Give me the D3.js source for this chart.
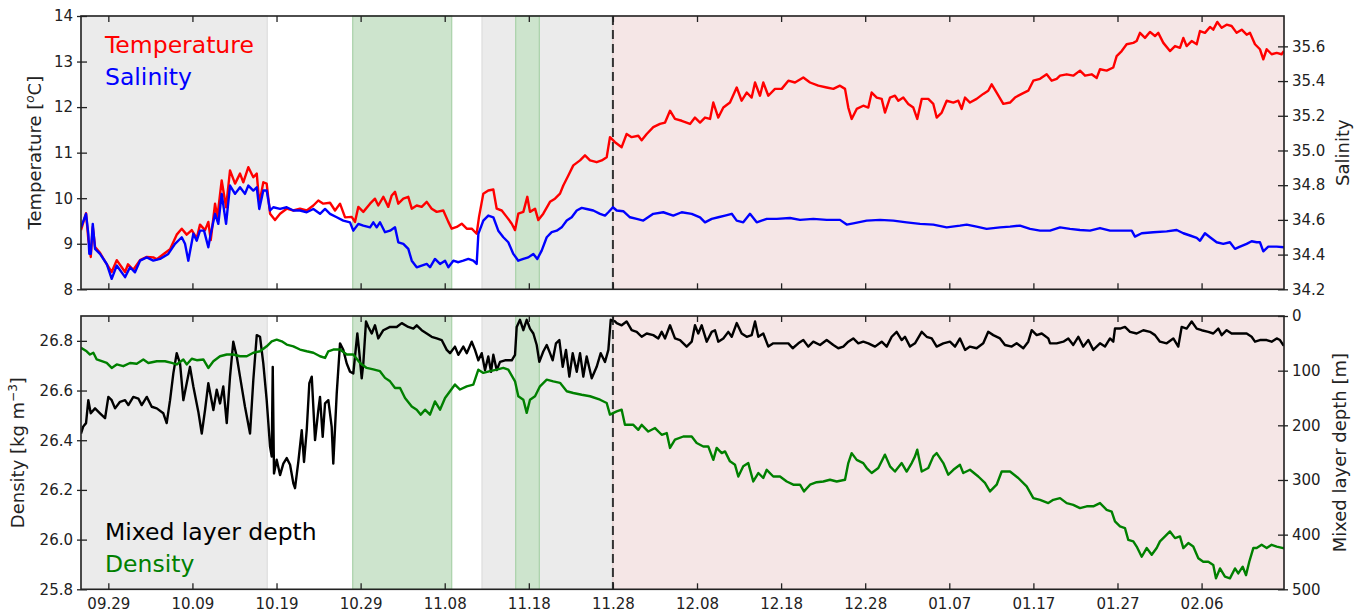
<!DOCTYPE html>
<html>
<head>
<meta charset="utf-8">
<script src="https://cdn.jsdelivr.net/npm/d3@7"></script>
<style>
body { margin: 0; background: #fff; }
svg text { font-family: "DejaVu Sans", sans-serif; }
</style>
</head>
<body>
<svg></svg>
<script>
const WIDTH = 1363
const HEIGHT = 612
const LEFT = 81, RIGHT = 1284
const TOP1 = 16, BOT1 = 289.3
const TOP2 = 316, BOT2 = 589.3

// days counted from 09.29 (first tick)
const xTickLabels = ['09.29','10.09','10.19','10.29','11.08','11.18','11.28','12.08','12.18','12.28','01.07','01.17','01.27','02.06']
const dayRange = [-3.25, 139.8]

const grayPeriods = [[-3.25, 18.9], [44.43, 60]]
const greenPeriods = [[29.06, 40.83], [48.44, 51.25]]
const pinkPeriods = [[60, 139.8]]
const dashedDay = 60

const tempTicks = [8, 9, 10, 11, 12, 13, 14]
const salTicks = [34.2, 34.4, 34.6, 34.8, 35.0, 35.2, 35.4, 35.6]
const densTicks = [25.8, 26.0, 26.2, 26.4, 26.6, 26.8]
const mldTicks = [0, 100, 200, 300, 400, 500]

const temperature = [
  [-3.25,9.30],[-2.65,9.67],[-2.38,9.10],[-2.18,8.86],[-2.09,8.71],[-1.85,9.37],[-1.58,8.93],[-0.99,8.80],
  [-0.19,8.55],[0.40,8.38],[1.00,8.64],[1.99,8.38],[2.34,8.55],[2.97,8.43],[3.77,8.64],[4.57,8.71],
  [5.35,8.70],[5.76,8.66],[6.54,8.77],[7.34,8.88],[8.13,9.20],[8.73,9.33],[9.32,9.20],[9.92,9.30],
  [10.51,9.12],[10.90,9.42],[11.50,9.30],[11.89,9.48],[12.18,9.08],[12.69,9.88],[12.96,9.58],[13.48,10.39],
  [14.00,9.80],[14.47,10.61],[15.07,10.32],[15.66,10.54],[16.05,10.35],[16.65,10.68],[17.24,10.46],[17.65,10.54],
  [17.95,9.88],[18.43,10.35],[18.83,10.32],[19.23,9.66],[19.82,9.52],[20.42,9.66],[21.21,9.77],[22.00,9.73],
  [22.79,9.77],[23.59,9.73],[24.38,9.84],[24.97,9.95],[25.56,9.88],[26.36,9.90],[26.96,9.73],[27.55,9.88],
  [28.15,9.58],[28.94,9.59],[29.33,9.48],[29.73,9.81],[30.32,9.70],[31.12,9.88],[31.71,9.99],[32.10,9.84],
  [32.70,10.03],[33.29,9.81],[33.70,10.06],[34.09,10.14],[34.48,9.88],[35.08,9.99],[35.67,10.03],[36.08,9.77],
  [36.67,9.84],[37.26,9.81],[37.86,9.92],[38.45,9.77],[39.05,9.70],[39.83,9.73],[40.43,9.48],[40.83,9.33],
  [41.43,9.37],[42.02,9.44],[42.62,9.33],[43.21,9.33],[43.80,9.22],[44.08,9.59],[44.59,10.10],[45.18,10.17],
  [45.78,10.19],[46.18,9.77],[46.78,9.73],[47.37,9.59],[47.97,9.44],[48.36,9.30],[48.75,9.66],[49.35,9.70],
  [49.82,10.03],[50.14,9.70],[50.74,9.77],[51.13,9.52],[51.72,9.66],[52.52,9.92],[53.11,9.99],[53.71,10.10],
  [54.10,10.28],[54.70,10.50],[55.29,10.72],[56.09,10.83],[56.68,10.94],[57.28,10.83],[58.07,10.79],[58.67,10.83],
  [59.26,10.90],[59.65,11.34],[60.25,11.23],[61.04,11.12],[61.63,11.41],[62.23,11.34],[63.02,11.37],[63.42,11.27],
  [64.02,11.41],[64.80,11.56],[65.60,11.63],[66.20,11.66],[66.79,11.92],[67.38,11.74],[68.18,11.70],[69.17,11.63],
  [69.76,11.77],[70.36,11.66],[70.95,11.77],[71.55,11.74],[71.94,12.10],[72.53,11.77],[73.13,11.99],[73.92,12.10],
  [74.72,12.43],[75.31,12.14],[75.91,12.32],[76.50,12.21],[76.90,12.54],[77.49,12.25],[77.88,12.54],[78.48,12.25],
  [79.27,12.40],[80.07,12.40],[80.86,12.58],[81.65,12.54],[82.64,12.65],[83.44,12.54],[84.42,12.47],[85.42,12.43],
  [86.21,12.40],[87.00,12.47],[87.60,12.40],[87.99,11.99],[88.39,11.74],[88.99,11.96],[89.77,12.03],[90.37,11.99],
  [90.77,12.32],[91.37,12.21],[91.96,12.18],[92.35,11.88],[92.95,12.21],[93.54,12.25],[93.94,12.14],[94.53,12.21],
  [95.12,12.07],[95.72,11.99],[96.19,11.74],[96.72,12.18],[97.50,12.18],[98.10,12.07],[98.50,11.77],[99.10,11.88],
  [99.69,12.14],[100.48,12.10],[101.07,12.14],[101.47,11.96],[101.87,12.21],[102.46,12.10],[103.25,12.18],[104.04,12.29],
  [104.63,12.36],[105.04,12.50],[105.63,12.32],[106.42,12.07],[107.22,12.10],[107.81,12.21],[108.61,12.29],[109.39,12.36],
  [109.99,12.58],[110.79,12.62],[111.58,12.72],[112.18,12.58],[112.77,12.62],[113.17,12.69],[113.96,12.72],[114.74,12.69],
  [115.54,12.80],[116.14,12.69],[116.93,12.72],[117.53,12.64],[117.92,12.83],[118.71,12.80],[119.50,12.87],[119.90,13.12],
  [120.50,13.23],[121.09,13.38],[121.88,13.41],[122.28,13.45],[122.67,13.63],[123.27,13.52],[123.86,13.65],[124.46,13.56],
  [124.85,13.63],[125.45,13.41],[126.24,13.23],[126.84,13.34],[127.43,13.30],[127.83,13.52],[128.22,13.34],[128.82,13.45],
  [129.42,13.38],[129.81,13.67],[130.40,13.63],[131.00,13.76],[131.39,13.70],[131.87,13.87],[132.39,13.74],[132.98,13.81],
  [133.57,13.78],[134.17,13.63],[134.77,13.70],[135.36,13.59],[135.75,13.63],[136.35,13.38],[136.94,13.27],[137.34,13.05],
  [137.74,13.27],[138.33,13.16],[138.93,13.19],[139.52,13.16],[139.80,13.23]
]

const salinity = [
  [-3.25,34.557],[-2.65,34.635],[-2.38,34.520],[-2.26,34.404],[-2.09,34.404],[-1.85,34.577],[-1.58,34.433],[-0.99,34.404],
  [-0.19,34.346],[0.40,34.260],[1.00,34.337],[1.99,34.270],[2.58,34.327],[3.17,34.298],[3.77,34.365],[4.57,34.384],
  [5.35,34.365],[6.15,34.375],[7.13,34.404],[7.93,34.462],[8.73,34.500],[9.12,34.462],[9.51,34.365],[10.11,34.520],
  [10.51,34.480],[10.90,34.538],[11.38,34.538],[11.89,34.442],[12.18,34.520],[12.69,34.635],[13.08,34.577],[13.48,34.750],
  [14.00,34.577],[14.47,34.798],[15.07,34.750],[15.66,34.788],[16.25,34.750],[16.65,34.798],[17.24,34.769],[17.65,34.788],
  [17.95,34.663],[18.43,34.769],[18.83,34.769],[19.23,34.654],[19.62,34.673],[20.42,34.663],[21.21,34.673],[22.00,34.654],
  [22.79,34.654],[23.59,34.644],[24.38,34.663],[25.17,34.635],[25.77,34.663],[26.36,34.635],[27.16,34.615],[27.94,34.596],
  [28.74,34.586],[29.13,34.538],[29.73,34.577],[30.32,34.567],[31.12,34.557],[31.51,34.586],[31.91,34.557],[32.30,34.586],
  [32.90,34.529],[33.50,34.538],[34.09,34.557],[34.48,34.471],[35.08,34.462],[35.67,34.433],[36.08,34.365],[36.67,34.327],
  [37.26,34.337],[37.86,34.346],[38.25,34.327],[38.84,34.375],[39.44,34.346],[40.04,34.365],[40.43,34.327],[41.02,34.365],
  [41.62,34.356],[42.21,34.365],[42.81,34.375],[43.40,34.365],[43.80,34.346],[44.00,34.519],[44.59,34.596],[45.18,34.625],
  [45.78,34.615],[46.37,34.538],[46.97,34.500],[47.56,34.471],[48.16,34.404],[48.75,34.365],[49.35,34.375],[49.94,34.384],
  [50.54,34.404],[51.01,34.375],[51.53,34.423],[52.13,34.500],[52.72,34.529],[53.32,34.538],[53.91,34.557],[54.51,34.596],
  [55.10,34.615],[55.70,34.654],[56.29,34.669],[56.88,34.663],[57.67,34.654],[58.47,34.635],[59.06,34.625],[59.46,34.644],
  [60.00,34.673],[60.45,34.654],[61.23,34.650],[62.03,34.615],[62.83,34.606],[63.61,34.596],[64.80,34.635],[65.99,34.644],
  [67.18,34.625],[68.18,34.644],[69.37,34.635],[70.36,34.615],[70.95,34.586],[71.75,34.606],[72.53,34.615],[73.33,34.625],
  [74.13,34.635],[74.72,34.596],[75.50,34.586],[76.30,34.635],[77.10,34.586],[78.29,34.606],[79.48,34.606],[81.06,34.611],
  [82.25,34.600],[83.83,34.606],[85.42,34.600],[87.00,34.600],[87.80,34.573],[88.58,34.580],[90.18,34.596],[91.76,34.600],
  [93.34,34.596],[94.93,34.586],[96.52,34.577],[98.10,34.573],[99.69,34.557],[101.27,34.567],[102.07,34.573],[103.25,34.561],
  [104.44,34.548],[106.03,34.557],[107.22,34.561],[108.41,34.567],[109.60,34.548],[110.79,34.538],[111.98,34.538],[113.17,34.557],
  [114.35,34.548],[115.54,34.542],[116.73,34.538],[117.92,34.553],[119.11,34.538],[120.69,34.538],[121.69,34.538],[122.08,34.504],
  [122.88,34.523],[124.26,34.529],[125.85,34.534],[127.04,34.542],[127.83,34.523],[128.62,34.510],[129.42,34.496],[129.81,34.480],
  [130.40,34.523],[131.00,34.500],[131.79,34.471],[132.58,34.462],[133.37,34.471],[133.97,34.433],[134.57,34.446],[135.36,34.462],
  [135.95,34.477],[136.55,34.471],[136.94,34.471],[137.34,34.419],[137.93,34.446],[138.93,34.446],[139.80,34.442]
]

const density = [
  [-3.25,26.772],[-2.58,26.758],[-2.18,26.745],[-1.78,26.752],[-1.38,26.725],[-0.78,26.718],[-0.19,26.711],[0.40,26.691],
  [1.00,26.705],[1.78,26.698],[2.58,26.711],[3.38,26.708],[4.16,26.725],[4.76,26.711],[5.76,26.718],[6.74,26.718],
  [7.54,26.711],[8.13,26.705],[8.92,26.725],[9.32,26.705],[9.92,26.728],[10.51,26.722],[11.30,26.725],[11.89,26.691],
  [12.49,26.718],[13.28,26.738],[14.08,26.745],[14.86,26.745],[15.66,26.738],[16.46,26.738],[17.24,26.752],[18.04,26.758],
  [18.83,26.778],[19.43,26.798],[20.02,26.805],[20.62,26.798],[21.21,26.785],[22.00,26.778],[22.79,26.765],[23.59,26.758],
  [24.38,26.752],[25.17,26.738],[25.77,26.731],[26.16,26.758],[26.75,26.765],[27.55,26.765],[28.35,26.745],[29.13,26.745],
  [29.93,26.711],[30.72,26.691],[31.51,26.685],[32.30,26.678],[32.90,26.651],[33.50,26.637],[34.09,26.610],[34.69,26.610],
  [35.28,26.570],[36.08,26.536],[36.67,26.523],[37.15,26.503],[37.66,26.523],[38.25,26.503],[38.84,26.556],[39.44,26.523],
  [40.04,26.570],[40.63,26.597],[41.22,26.624],[41.82,26.604],[42.62,26.617],[43.40,26.624],[44.00,26.684],[44.59,26.671],
  [45.39,26.678],[46.18,26.684],[46.97,26.691],[47.56,26.684],[48.36,26.637],[48.75,26.577],[49.35,26.563],[49.75,26.510],
  [50.14,26.563],[50.74,26.577],[51.33,26.617],[52.13,26.644],[52.91,26.637],[53.71,26.631],[54.51,26.597],[55.29,26.590],
  [56.29,26.583],[57.28,26.577],[58.47,26.563],[59.26,26.550],[59.65,26.503],[60.45,26.516],[61.04,26.523],[61.43,26.462],
  [62.03,26.462],[62.43,26.462],[63.02,26.442],[63.42,26.462],[64.21,26.435],[65.01,26.449],[65.80,26.422],[66.40,26.429],
  [66.79,26.369],[67.38,26.402],[68.37,26.415],[69.37,26.415],[69.96,26.389],[70.75,26.375],[71.34,26.375],[71.94,26.321],
  [72.34,26.369],[72.94,26.348],[73.33,26.355],[73.92,26.315],[74.52,26.301],[74.91,26.254],[75.50,26.295],[76.10,26.308],
  [76.69,26.234],[77.29,26.268],[77.88,26.248],[78.29,26.281],[79.07,26.254],[79.87,26.254],[80.67,26.234],[81.45,26.221],
  [82.25,26.221],[82.72,26.194],[83.44,26.221],[84.23,26.231],[85.02,26.234],[85.81,26.241],[86.61,26.234],[87.60,26.241],
  [87.99,26.308],[88.39,26.348],[88.99,26.321],[89.77,26.308],[90.18,26.288],[90.77,26.268],[91.56,26.288],[92.35,26.342],
  [92.95,26.295],[93.54,26.274],[94.34,26.308],[94.93,26.274],[95.53,26.308],[95.92,26.335],[96.19,26.362],[96.72,26.274],
  [97.50,26.288],[98.10,26.335],[98.50,26.348],[99.29,26.308],[99.88,26.261],[100.48,26.281],[101.27,26.301],[101.66,26.268],
  [102.46,26.281],[103.45,26.254],[104.24,26.228],[104.84,26.194],[105.63,26.221],[106.23,26.274],[107.22,26.274],[108.20,26.248],
  [109.20,26.214],[109.99,26.167],[110.79,26.160],[111.77,26.147],[112.37,26.160],[113.17,26.167],[113.96,26.147],[114.74,26.140],
  [115.54,26.127],[116.34,26.134],[117.12,26.134],[117.92,26.147],[118.71,26.120],[119.31,26.113],[119.70,26.073],[120.30,26.053],
  [120.89,26.046],[121.28,25.999],[121.88,25.993],[122.28,25.972],[122.88,25.931],[123.47,25.966],[124.07,25.939],[124.66,25.966],
  [125.05,25.993],[125.65,26.013],[126.24,26.033],[126.84,26.006],[127.43,26.013],[127.83,25.966],[128.42,25.986],[129.01,25.972],
  [129.61,25.925],[130.20,25.911],[130.80,25.911],[131.39,25.898],[131.71,25.844],[132.19,25.884],[132.78,25.851],[133.37,25.844],
  [133.97,25.884],[134.36,25.864],[134.89,25.891],[135.28,25.857],[135.67,25.911],[136.15,25.966],[136.55,25.966],[137.14,25.979],
  [137.74,25.966],[138.33,25.979],[138.93,25.972],[139.71,25.966],[139.80,25.966]
]

const mixedLayerDepth = [
  [-3.25,215],[-2.98,202],[-2.65,196],[-2.38,154],[-2.09,178],[-1.58,169],[-0.99,178],[-0.39,187],
  [0.00,148],[0.40,154],[0.80,169],[1.39,157],[1.99,154],[2.38,163],[2.97,148],[3.57,151],
  [3.97,163],[4.57,148],[5.16,166],[5.76,169],[6.54,178],[6.94,196],[7.34,154],[7.73,105],
  [8.13,68],[8.53,87],[8.92,154],[9.32,123],[9.71,93],[10.11,129],[10.70,175],[11.11,215],
  [11.50,172],[11.89,123],[12.49,172],[12.89,135],[13.28,160],[13.67,129],[14.08,196],[14.47,111],
  [14.86,47],[15.27,74],[15.66,111],[16.25,166],[16.85,215],[17.24,117],[17.65,35],[18.04,38],
  [18.43,87],[18.83,154],[19.23,239],[19.43,257],[19.55,93],[19.70,288],[20.02,263],[20.42,291],
  [20.81,270],[21.21,260],[21.61,272],[22.00,306],[22.20,315],[22.59,267],[23.00,209],[23.27,267],
  [23.59,209],[23.90,123],[24.19,111],[24.58,227],[24.97,172],[25.17,148],[25.49,221],[25.77,160],
  [26.16,154],[26.56,203],[26.75,270],[27.16,141],[27.55,50],[27.94,62],[28.35,87],[28.74,102],
  [29.13,105],[29.45,56],[29.61,32],[29.85,68],[30.13,114],[30.32,87],[30.64,10],[30.92,20],
  [31.32,32],[31.71,17],[32.10,41],[32.70,26],[33.50,20],[34.29,20],[34.89,13],[35.67,20],
  [36.27,23],[36.67,17],[37.26,26],[37.86,32],[38.45,38],[39.05,41],[39.64,44],[40.24,62],
  [40.63,68],[41.22,56],[41.62,71],[42.21,56],[42.62,68],[43.21,47],[43.60,62],[44.00,81],
  [44.40,68],[44.79,99],[45.18,74],[45.51,102],[45.78,71],[46.18,99],[46.58,84],[47.17,81],
  [47.97,81],[48.36,71],[48.56,20],[48.95,7],[49.35,26],[49.75,7],[50.14,23],[50.54,32],
  [50.94,53],[51.25,84],[51.72,65],[52.13,53],[52.52,68],[52.84,81],[53.23,50],[53.63,44],
  [54.03,93],[54.42,62],[54.82,111],[55.22,68],[55.70,102],[56.09,68],[56.48,111],[56.88,74],
  [57.48,114],[58.07,93],[58.55,68],[59.06,84],[59.46,62],[59.74,7],[60.25,10],[60.45,13],
  [61.04,17],[61.63,10],[62.23,26],[62.83,29],[63.42,38],[64.02,32],[64.80,35],[65.40,41],
  [65.80,29],[66.20,41],[66.79,17],[67.38,41],[67.98,44],[68.77,56],[69.37,47],[69.76,17],
  [70.15,32],[70.56,17],[71.15,47],[71.75,29],[72.14,26],[72.53,47],[73.13,41],[73.72,29],
  [74.13,38],[74.72,13],[75.31,32],[75.91,38],[76.50,35],[76.90,10],[77.29,38],[77.88,32],
  [78.48,56],[79.07,50],[80.07,50],[80.86,50],[81.38,59],[82.05,50],[82.64,44],[83.23,56],
  [83.83,47],[84.63,53],[85.42,44],[86.21,53],[86.80,59],[87.40,56],[87.99,47],[88.58,41],
  [89.18,50],[89.77,47],[90.37,50],[91.17,56],[91.96,47],[92.56,56],[93.15,38],[93.74,29],
  [94.34,44],[94.73,38],[95.33,56],[95.92,50],[96.72,29],[97.31,38],[97.91,41],[98.50,56],
  [99.29,50],[100.08,47],[100.68,56],[101.27,41],[101.87,62],[102.46,56],[103.25,59],[104.04,50],
  [104.63,29],[105.23,35],[106.03,41],[106.62,53],[107.42,56],[108.01,50],[108.80,59],[109.39,47],
  [109.80,26],[110.39,35],[110.99,32],[111.77,41],[111.98,50],[112.77,50],[113.56,47],[114.15,41],
  [114.74,53],[115.34,38],[115.93,56],[116.53,44],[117.12,62],[117.92,50],[118.51,56],[119.11,41],
  [119.50,47],[119.70,23],[120.30,23],[120.89,20],[121.49,29],[122.28,32],[123.07,26],[123.86,29],
  [124.46,35],[125.05,47],[125.85,50],[126.64,41],[127.23,56],[127.63,20],[128.22,23],[128.82,10],
  [129.42,23],[130.01,26],[130.80,29],[131.39,32],[131.99,23],[132.39,35],[132.98,26],[133.57,32],
  [134.57,32],[135.36,32],[135.95,38],[136.35,47],[136.94,44],[137.74,44],[138.33,47],[138.93,41],
  [139.32,44],[139.71,53],[139.80,53]
]

const BASE = Date.UTC(2015, 8, 29)
const dayToDate = d => new Date(BASE + d*864e5)
const labelToDate = s => {
  const [m, d] = s.split('.').map(Number)
  return new Date(Date.UTC(m >= 9 ? 2015 : 2016, m-1, d))
}

const svg = d3.select('svg')
  .attr('width', WIDTH)
  .attr('height', HEIGHT)

const x = d3.scaleUtc()
  .domain(dayRange.map(dayToDate))
  .range([LEFT, RIGHT])
const xTickDates = xTickLabels.map(labelToDate)

const yT = d3.scaleLinear().domain([8, 14]).range([BOT1, TOP1])
const yS = d3.scaleLinear().domain([34.2, 35.775]).range([BOT1, TOP1])
const yD = d3.scaleLinear().domain([25.8, 26.9]).range([BOT2, TOP2])
const yM = d3.scaleLinear().domain([0, 500]).range([TOP2, BOT2])

const defs = svg.append('defs')
defs.append('clipPath').attr('id','clip1').append('rect')
  .attr('x',LEFT).attr('y',TOP1).attr('width',RIGHT-LEFT).attr('height',BOT1-TOP1)
defs.append('clipPath').attr('id','clip2').append('rect')
  .attr('x',LEFT).attr('y',TOP2).attr('width',RIGHT-LEFT).attr('height',BOT2-TOP2)

function drawPanel(top, bot, clipId){
  const g = svg.append('g')
  const shade = (periods, fill, edge) => {
    g.selectAll(null).data(periods).enter().append('rect')
      .attr('x', d => x(dayToDate(d[0])))
      .attr('y', top)
      .attr('width', d => x(dayToDate(d[1])) - x(dayToDate(d[0])))
      .attr('height', bot - top)
      .attr('fill', fill)
      .attr('stroke', edge)
      .attr('stroke-width', 1.2)
  }
  shade(grayPeriods, '#ebebeb', '#dedede')
  shade(pinkPeriods, '#f5e6e6', '#e8d2d2')
  shade(greenPeriods, '#cde4cd', '#a9d1a9')
  g.append('line')
    .attr('x1', x(dayToDate(dashedDay))).attr('x2', x(dayToDate(dashedDay)))
    .attr('y1', top).attr('y2', bot)
    .attr('stroke', '#333')
    .attr('stroke-width', 2)
    .attr('stroke-dasharray', '9,5')
  return g.append('g').attr('clip-path', `url(#${clipId})`)
}

const lineOf = (yScale) => d3.line()
  .x(d => x(dayToDate(d[0])))
  .y(d => yScale(d[1]))

const LW = 2.4
const p1 = drawPanel(TOP1, BOT1, 'clip1')
p1.append('path').datum(temperature)
  .attr('d', lineOf(yT)).attr('fill','none').attr('stroke','#ff0000').attr('stroke-width',LW).attr('stroke-linejoin','round')
p1.append('path').datum(salinity)
  .attr('d', lineOf(yS)).attr('fill','none').attr('stroke','#0000ff').attr('stroke-width',LW).attr('stroke-linejoin','round')

const p2 = drawPanel(TOP2, BOT2, 'clip2')
p2.append('path').datum(mixedLayerDepth)
  .attr('d', lineOf(yM)).attr('fill','none').attr('stroke','#000').attr('stroke-width',LW).attr('stroke-linejoin','round')
p2.append('path').datum(density)
  .attr('d', lineOf(yD)).attr('fill','none').attr('stroke','#008000').attr('stroke-width',LW).attr('stroke-linejoin','round')

// axes
const TICK_COLOR = '#222'
function styleAxis(g){
  g.select('.domain').remove()
  g.selectAll('.tick line').attr('stroke', TICK_COLOR).attr('stroke-width', 1.3)
  g.selectAll('.tick text').attr('fill', '#222').style('font-size','15px').style('font-family','"DejaVu Sans", sans-serif')
}
function yAxes(left, right, lTicks, rTicks, lFmt, rFmt){
  const gl = svg.append('g').attr('transform', `translate(${LEFT},0)`)
    .call(d3.axisLeft(left).tickValues(lTicks).tickFormat(lFmt).tickSize(-6).tickPadding(8))
  gl.selectAll('.tick').append('line').attr('x2', -4)
  styleAxis(gl)
  const gr = svg.append('g').attr('transform', `translate(${RIGHT},0)`)
    .call(d3.axisRight(right).tickValues(rTicks).tickFormat(rFmt).tickSize(-6).tickPadding(8))
  gr.selectAll('.tick').append('line').attr('x2', 4)
  styleAxis(gr)
}
function xAxes(top, bot, labels){
  const gt = svg.append('g').attr('transform', `translate(0,${top})`)
    .call(d3.axisTop(x).tickValues(xTickDates).tickFormat('').tickSize(-6))
  styleAxis(gt)
  const gb = svg.append('g').attr('transform', `translate(0,${bot})`)
    .call(d3.axisBottom(x).tickValues(xTickDates).tickFormat((d,i) => labels ? xTickLabels[i] : '').tickSize(-6).tickPadding(9))
  styleAxis(gb)
}
yAxes(yT, yS, tempTicks, salTicks, d3.format('d'), d3.format('.1f'))
yAxes(yD, yM, densTicks, mldTicks, d3.format('.1f'), d3.format('d'))
xAxes(TOP1, BOT1, false)
xAxes(TOP2, BOT2, true)

// spines
;[[TOP1, BOT1], [TOP2, BOT2]].forEach(([t, b]) => {
  svg.append('rect')
    .attr('x', LEFT).attr('y', t).attr('width', RIGHT-LEFT).attr('height', b-t)
    .attr('fill','none').attr('stroke','#222').attr('stroke-width',1.6)
})

// axis titles
function yTitle(xPos, yPos, parts){
  const t = svg.append('text')
    .attr('transform', `translate(${xPos},${yPos}) rotate(-90)`)
    .attr('text-anchor','middle')
    .attr('fill','#222')
    .style('font-size','18px')
  parts.forEach(p => {
    const s = t.append('tspan').text(p.text)
    if(p.sup) s.attr('dy', -7).style('font-size','12px')
    if(p.italic) s.style('font-style','italic')
    if(p.down) s.attr('dy', 7)
  })
}
yTitle(41, (TOP1+BOT1)/2, [{text:'Temperature ['},{text:'o',sup:true,italic:true},{text:'C]',down:true}])
yTitle(24, (TOP2+BOT2)/2, [{text:'Density [kg m'},{text:'\u22123',sup:true},{text:']',down:true}])
yTitle(1349, (TOP1+BOT1)/2, [{text:'Salinity'}])
yTitle(1346, (TOP2+BOT2)/2, [{text:'Mixed layer depth [m]'}])

// legends
const legend = (items, x0, y0) => {
  svg.append('g').selectAll('text').data(items).enter().append('text')
    .attr('x', x0)
    .attr('y', (d,i) => y0 + i*32)
    .attr('fill', d => d[1])
    .style('font-size','23.5px')
    .text(d => d[0])
}
legend([['Temperature','#ff0000'],['Salinity','#0000ff']], 105, 53)
legend([['Mixed layer depth','#000000'],['Density','#008000']], 105, 540)
</script>
</body>
</html>
